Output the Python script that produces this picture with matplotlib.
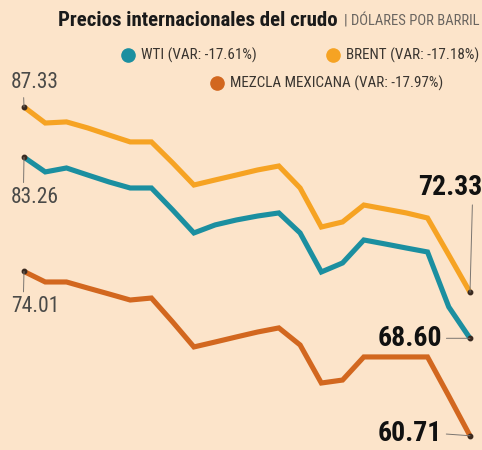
import matplotlib
matplotlib.use("Agg")
import matplotlib.pyplot as plt
from matplotlib import font_manager

# ---------------- data ----------------
days = list(range(22))
brent = [87.33, 86.03, 86.12, 85.63, 85.06, 84.50, 84.50, 82.80, 81.01, 81.42, 81.82,
         82.23, 82.55, 80.77, 77.61, 78.02, 79.39, 79.07, 78.75, 78.34, 75.35, 72.33]
wti = [83.26, 82.07, 82.39, 81.82, 81.26, 80.77, 80.77, 78.99, 77.13, 77.78, 78.18,
       78.50, 78.75, 77.13, 73.97, 74.70, 76.56, 76.24, 75.91, 75.59, 71.14, 68.60]
mezcla = [74.01, 73.16, 73.16, 72.67, 72.19, 71.70, 71.86, 69.92, 67.90, 68.30, 68.71,
          69.11, 69.44, 68.06, 64.98, 65.22, 67.09, 67.09, 67.09, 67.09, 63.93, 60.71]
series_names = ["WTI", "BRENT", "MEZCLA MEXICANA"]
series_var = ["-17.61%", "-17.18%", "-17.97%"]
title = "Precios internacionales del crudo"
subtitle = "| DÓLARES POR BARRIL"

# ---------------- style ----------------
BG = "#FCE4CA"
C_WTI = "#1B8FA0"
C_BRENT = "#F6A323"
C_MEZ = "#D2671F"

names = {f.name for f in font_manager.fontManager.ttflist}
def pick(cands, default="DejaVu Sans"):
    for c in cands:
        if c in names:
            return c
    return default
NARROW = pick(["Roboto Condensed", "Liberation Sans Narrow", "Open Sans Condensed",
               "DejaVu Sans Condensed", "Liberation Sans"])
plt.rcParams["font.family"] = [NARROW, "DejaVu Sans"]

W, H = 482, 450
fig = plt.figure(figsize=(W / 100, H / 100), dpi=100, facecolor=BG)
ax = fig.add_axes([0, 0, 1, 1], facecolor=BG)
ax.set_axis_off()
ax.set_xlim(-1.13, 21.565)
ax.set_ylim(59.556, 95.99)

lw = 3.7
for vals, col in [(mezcla, C_MEZ), (wti, C_WTI), (brent, C_BRENT)]:
    ax.plot(days, vals, color=col, lw=lw, solid_joinstyle="miter", solid_capstyle="butt", zorder=3)
    ax.plot([days[0], days[-1]], [vals[0], vals[-1]], "o", color="#3a2a20", ms=3.2, zorder=4)

def lab(x, y, txt, dx, dy, rel, bold=False, color="#4a4a48", size=15.5):
    ax.annotate(txt, xy=(x, y), xytext=(dx, dy), textcoords="offset pixels",
                ha="center", va="center", fontsize=size, color=color,
                fontweight="bold" if bold else "normal",
                arrowprops=dict(arrowstyle="-", color="#7a7570", lw=0.7,
                                shrinkA=1, shrinkB=0, relpos=rel), zorder=5)

lab(days[0], brent[0], f"{brent[0]:.2f}", 11, 24, (0.26, 0.0))
lab(days[0], wti[0], f"{wti[0]:.2f}", 11, -40, (0.26, 1.0))
lab(days[0], mezcla[0], f"{mezcla[0]:.2f}", 11, -35, (0.26, 1.0))
lab(days[-1], brent[-1], f"{brent[-1]:.2f}", -20, 105, (0.85, 0.0), True, "#111111", 20)
lab(days[-1], wti[-1], f"{wti[-1]:.2f}", -60, 0, (1.0, 0.5), True, "#111111", 20)
lab(days[-1], mezcla[-1], f"{mezcla[-1]:.2f}", -60, 2, (1.0, 0.5), True, "#111111", 20)

# title
fig.text(58 / W, 1 - 20 / H, title, ha="left", va="center", fontsize=15,
         fontweight="heavy", color="#1a1a1a")
fig.text(344 / W, 1 - 21 / H, subtitle, ha="left", va="center", fontsize=10.5,
         color="#6a6560")

# legend
legend_pos = [(128, 55), (333, 55), (217, 83)]
for (px, py), nm, var, col in zip(legend_pos, series_names, series_var, [C_WTI, C_BRENT, C_MEZ]):
    fig.add_artist(plt.Line2D([px / W], [1 - py / H], marker="o", ms=9.5, color=col,
                              transform=fig.transFigure, lw=0))
    fig.text((px + 13) / W, 1 - py / H, f"{nm} (VAR: {var})", ha="left", va="center",
             fontsize=10.9, color="#3a3530")

fig.savefig("out.png", dpi=100, facecolor=BG)
